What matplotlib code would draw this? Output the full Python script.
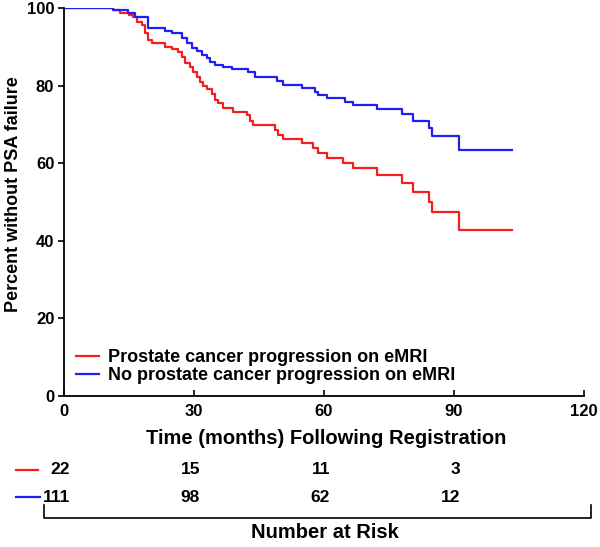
import matplotlib
matplotlib.use('Agg')
from matplotlib import pyplot as plt
from matplotlib import transforms

plt.rcParams['font.family'] = ['Liberation Sans', 'DejaVu Sans']
plt.rcParams['font.weight'] = 'bold'

# Kaplan-Meier steps (months, percent after the step)
red_t = [0, 11.3, 12.9, 15.0, 15.9, 16.8, 18.0, 18.7, 19.4, 20.3, 23.3, 24.9, 26.3, 27.2,
         27.9, 29.1, 29.8, 30.7, 31.4, 32.1, 33.0, 34.2, 34.8, 35.5, 36.7, 39.0, 42.2,
         42.9, 43.6, 48.7, 49.4, 50.5, 54.9, 57.5, 58.6, 60.7, 64.4, 66.7, 72.2, 78.0,
         80.5, 84.2, 84.9, 91.2, 103.4]
red_s = [100, 99.4, 98.8, 98.2, 97.6, 96.4, 95.6, 93.6, 91.8, 91.0, 90.0, 89.4, 88.6, 87.4,
         85.8, 84.8, 83.5, 82.2, 80.9, 79.9, 79.1, 77.8, 76.3, 75.5, 74.2, 73.2, 72.4,
         71.0, 69.8, 68.6, 67.3, 66.2, 65.2, 63.9, 62.6, 61.3, 60.0, 58.8, 57.0, 55.0,
         52.7, 50.0, 47.5, 42.8, 42.8]

blue_t = [0, 11.3, 14.8, 16.4, 19.4, 23.3, 24.9, 27.2, 28.4, 29.5, 30.7, 31.8, 33.0, 33.7,
          34.8, 36.7, 38.8, 42.5, 44.1, 49.2, 50.5, 54.9, 57.9, 58.6, 60.7, 64.8, 66.7,
          72.2, 78.0, 80.5, 84.2, 84.9, 91.2, 103.4]
blue_s = [100, 99.4, 98.6, 97.6, 94.8, 94.2, 93.6, 92.2, 91.0, 89.8, 88.8, 87.9, 87.0, 86.0,
          85.3, 84.8, 84.2, 83.6, 82.2, 81.3, 80.2, 79.4, 78.4, 77.6, 76.9, 75.9, 75.0,
          74.0, 72.7, 71.0, 69.0, 67.0, 63.3, 63.3]

risk_times = [0, 30, 60, 90]
red_risk = ['22', '15', '11', '3']
blue_risk = ['111', '98', '62', '12']

labels = ['Prostate cancer progression on eMRI', 'No prostate cancer progression on eMRI']
colors = ['#f51e1e', '#1e1ef5']

fig = plt.figure(figsize=(6.0, 5.47), dpi=100)
ax = fig.add_axes([64 / 600, 1 - 396 / 547, 520 / 600, 388 / 547])

ax.step(red_t, red_s, where='post', color=colors[0], lw=1.6, label=labels[0])
ax.step(blue_t, blue_s, where='post', color=colors[1], lw=1.6, label=labels[1])

ax.set_xlim(0, 120)
ax.set_ylim(0, 100)
ax.set_xticks([0, 30, 60, 90, 120])
ax.set_yticks([0, 20, 40, 60, 80, 100])
ax.spines['top'].set_visible(False)
ax.spines['right'].set_visible(False)
ax.spines['left'].set_linewidth(1.3)
ax.spines['bottom'].set_linewidth(1.3)
ax.tick_params(axis='x', direction='in', length=4, width=1.2, labelsize=12, pad=6)
ax.tick_params(axis='y', direction='out', length=4, width=1.2, labelsize=12, pad=3)
for lab in ax.get_xticklabels() + ax.get_yticklabels():
    lab.set_fontweight('bold')

ax.set_ylabel('Percent without PSA failure', fontsize=13, fontweight='bold')
ax.yaxis.set_label_coords(-0.08, 0.52)
fig.text(326 / 600, 1 - 438 / 547, 'Time (months) Following Registration',
         ha='center', va='center', fontsize=14.5, fontweight='bold')

leg = ax.legend(loc='lower left', bbox_to_anchor=(0.0, 0.0), frameon=False,
                fontsize=13, handlelength=1.3, handletextpad=0.5, labelspacing=0.05,
                borderaxespad=0.25)
for t in leg.get_texts():
    t.set_fontweight('bold')

# number at risk table
trans = transforms.blended_transform_factory(ax.transData, fig.transFigure)
trans = transforms.offset_copy(trans, fig=fig, x=6, y=0, units='dots')
for vals, ypix in [(red_risk, 470), (blue_risk, 497)]:
    for t, v in zip(risk_times, vals):
        ax.text(t, 1 - ypix / 547, v, transform=trans, ha='right', va='center',
                fontsize=12.5, fontweight='bold', clip_on=False)
fig.add_artist(plt.Line2D([16 / 600, 38 / 600], [1 - 470 / 547] * 2,
                          color=colors[0], lw=1.6, transform=fig.transFigure))
fig.add_artist(plt.Line2D([16 / 600, 40 / 600], [1 - 497 / 547] * 2,
                          color=colors[1], lw=1.6, transform=fig.transFigure))

# bracket
bx = [44 / 600, 44 / 600, 591 / 600, 591 / 600]
by = [1 - 505 / 547, 1 - 518 / 547, 1 - 518 / 547, 1 - 505 / 547]
fig.add_artist(plt.Line2D(bx, by, color='black', lw=1.2, transform=fig.transFigure))
fig.text(325 / 600, 1 - 532 / 547, 'Number at Risk', ha='center', va='center',
         fontsize=14.5, fontweight='bold')

plt.savefig('out.png', dpi=100)
